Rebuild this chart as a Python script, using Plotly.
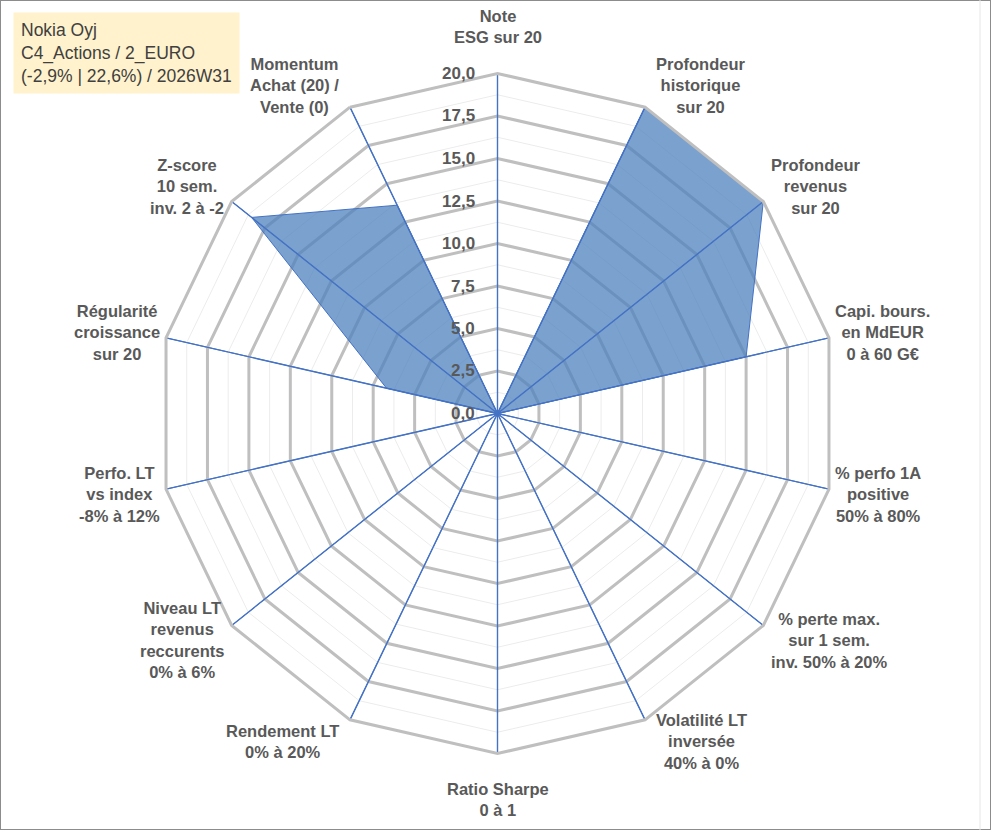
import math
import plotly.graph_objects as go

# Axes du radar (sens horaire depuis le haut)
categories = [
    "Note<br>ESG sur 20",
    "Profondeur<br>historique<br>sur 20",
    "Profondeur<br>revenus<br>sur 20",
    "Capi. bours.<br>en MdEUR<br>0 à 60 G€",
    "% perfo 1A<br>positive<br>50% à 80%",
    "% perte max.<br>sur 1 sem.<br>inv. 50% à 20%",
    "Volatilité LT<br>inversée<br>40% à 0%",
    "Ratio Sharpe<br>0 à 1",
    "Rendement LT<br>0% à 20%",
    "Niveau LT<br>revenus<br>reccurents<br>0% à 6%",
    "Perfo. LT<br>vs index<br>-8% à 12%",
    "Régularité<br>croissance<br>sur 20",
    "Z-score<br>10 sem.<br>inv. 2 à -2",
    "Momentum<br>Achat (20) /<br>Vente (0)",
]
scores = [0, 20, 20, 15, 0, 0, 0, 0, 0, 0, 0, 6.7, 18.5, 13.6]

radial_ticks = [0, 2.5, 5, 7.5, 10, 12.5, 15, 17.5, 20]
radial_labels = ["0,0", "2,5", "5,0", "7,5", "10,0", "12,5", "15,0", "17,5", "20,0"]
minor_levels = [1.25, 3.75, 6.25, 8.75, 11.25, 13.75, 16.25, 18.75]

title_lines = ["Nokia Oyj", "C4_Actions / 2_EURO", "(-2,9% | 22,6%) / 2026W31"]

W, H = 991, 830
GREY_TXT = "#595959"
AXIS_BLUE = "#4472c4"
# géométrie du radar en pixels
CX, CY = 497.5, 413.5
R_PLOT = 340          # rayon réel du polar
RX, RY = 332, 349     # rayons utilisés pour placer les libellés d'axes

fig = go.Figure()

# grille secondaire (fine, gris clair)
for lvl in minor_levels:
    fig.add_trace(go.Scatterpolar(
        r=[lvl] * (len(categories) + 1),
        theta=categories + [categories[0]],
        mode="lines", line=dict(color="#ececec", width=1),
        hoverinfo="skip", showlegend=False,
    ))

# série
fig.add_trace(go.Scatterpolar(
    r=scores + [scores[0]],
    theta=categories + [categories[0]],
    mode="lines", fill="toself",
    fillcolor="rgba(79,129,189,0.75)",
    line=dict(color=AXIS_BLUE, width=1),
    name="Nokia Oyj", showlegend=False,
))

# rayons bleus redessinés au-dessus du remplissage
for cat in categories:
    fig.add_trace(go.Scatterpolar(
        r=[0, radial_ticks[-1]], theta=[cat, cat],
        mode="lines", line=dict(color=AXIS_BLUE, width=1.4),
        hoverinfo="skip", showlegend=False,
    ))

# libellés des axes, centrés comme dans Excel
annotations = []
n = len(categories)
for i, lab in enumerate(categories):
    th = math.radians(i * 360 / n)
    s, c = math.sin(th), math.cos(th)
    vx, vy = CX + RX * s, CY - RY * c
    if abs(s) < 0.05:
        xa = "center"
        ya = "bottom" if c > 0 else "top"
        x, y = vx, (vy - 16 if c > 0 else vy + 15)
    else:
        xa = "left" if s > 0 else "right"
        ya = "middle"
        x, y = vx + (12 if s > 0 else -12), vy - 15 * c
    annotations.append(dict(
        text=lab, xref="paper", yref="paper", x=x / W, y=1 - y / H,
        xanchor=xa, yanchor=ya, align="center", showarrow=False,
        font=dict(family="Liberation Sans", size=16.5, color=GREY_TXT, weight="bold"),
    ))

# graduations de l'axe radial, à gauche de l'axe vertical
for v, txt in zip(radial_ticks, radial_labels):
    y = CY - v / 20 * R_PLOT
    annotations.append(dict(
        text=txt, xref="paper", yref="paper", x=(CX - 21) / W, y=1 - y / H,
        xanchor="right", yanchor="middle", showarrow=False,
        font=dict(family="Liberation Sans", size=17, color=GREY_TXT, weight="bold"),
    ))

# cartouche en haut à gauche
annotations.append(dict(
    text="<br>".join(title_lines),
    xref="paper", yref="paper", x=13 / W, y=1 - 12 / H,
    xanchor="left", yanchor="top", align="left", showarrow=False,
    bgcolor="#fff2cc", borderpad=7,
    font=dict(family="Liberation Sans", size=17.5, color="#404040"),
))

fig.update_layout(
    width=W, height=H,
    margin=dict(l=0, r=0, t=0, b=0),
    paper_bgcolor="white",
    showlegend=False,
    polar=dict(
        domain=dict(x=[(CX - R_PLOT) / W, (CX + R_PLOT) / W],
                    y=[1 - (CY + R_PLOT) / H, 1 - (CY - R_PLOT) / H]),
        gridshape="linear",
        bgcolor="white",
        angularaxis=dict(
            type="category", rotation=90, direction="clockwise",
            gridcolor=AXIS_BLUE, gridwidth=1.4,
            showline=True, linecolor="#bfbfbf", linewidth=3,
            ticks="", showticklabels=False,
        ),
        radialaxis=dict(
            range=[0, 20], angle=90,
            tickvals=radial_ticks,
            gridcolor="#bfbfbf", gridwidth=3,
            showline=False, ticks="", showticklabels=False,
        ),
    ),
    annotations=annotations,
    shapes=[
        dict(type="rect", xref="paper", yref="paper", x0=0, y0=0, x1=1, y1=1,
             line=dict(color="#8c8c8c", width=2)),
        dict(type="line", xref="paper", yref="paper", x0=980 / W, x1=980 / W, y0=0, y1=1,
             line=dict(color="#e6e6e6", width=1)),
    ],
)

fig.write_html("out.html", config={"displayModeBar": False},
               post_script="document.body.style.margin='0px';")
